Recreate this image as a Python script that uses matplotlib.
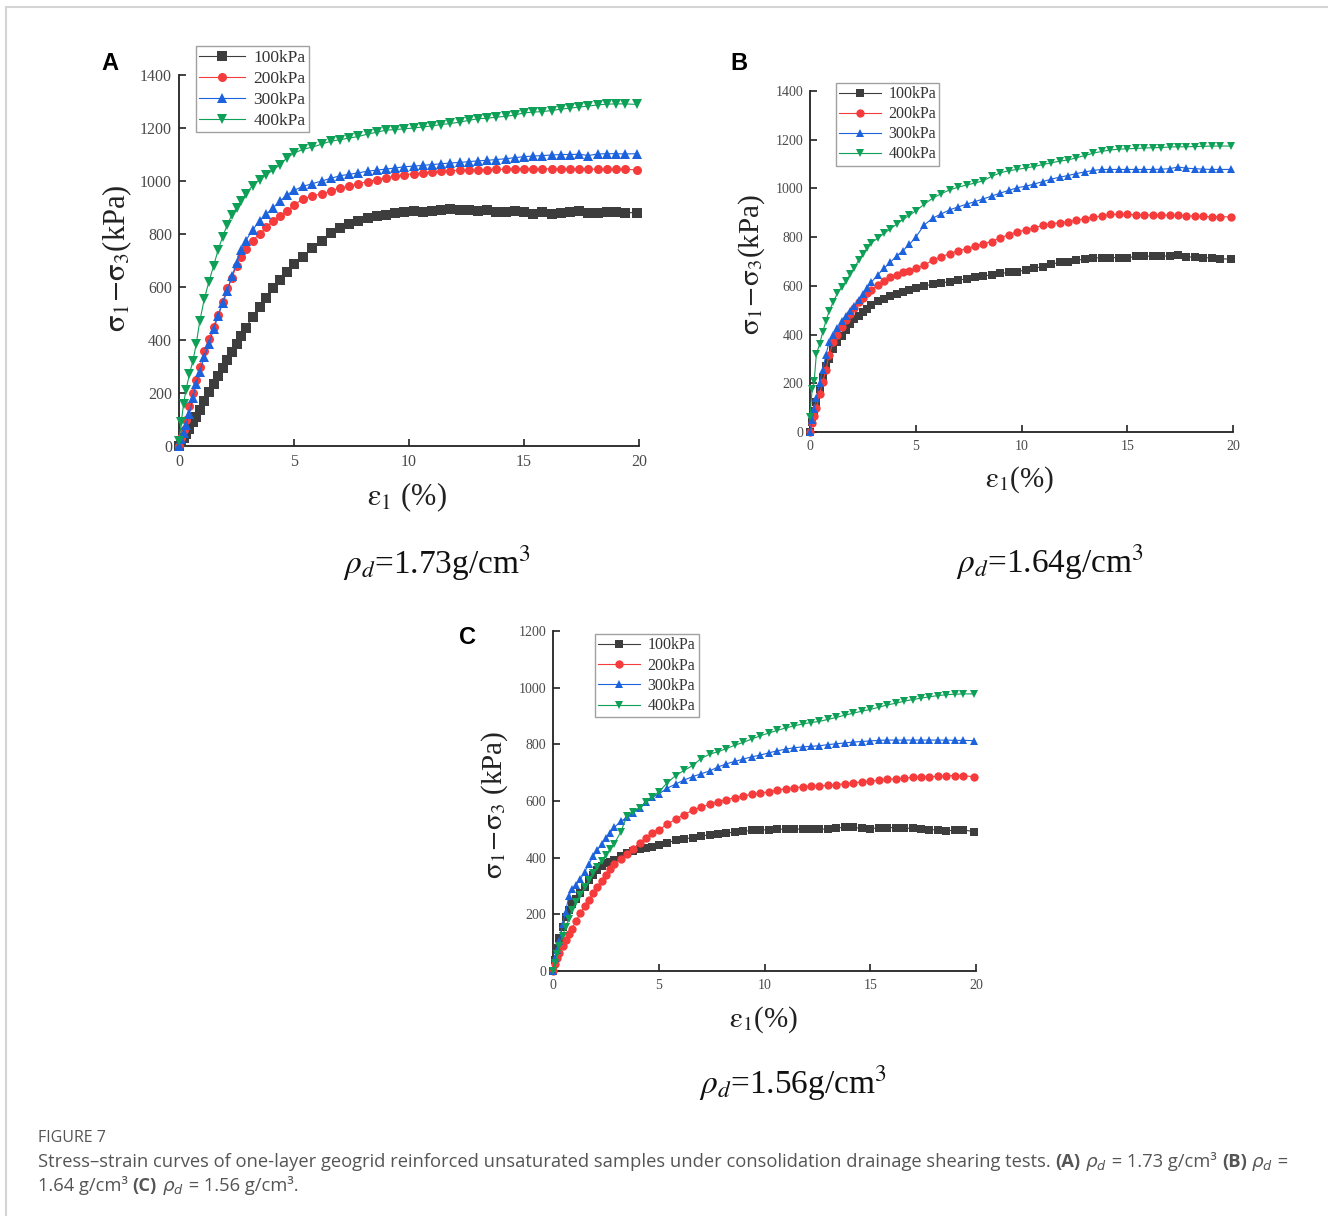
import matplotlib
matplotlib.use("Agg")
import matplotlib.pyplot as plt
from matplotlib.lines import Line2D

plt.rcParams['font.family'] = ['Liberation Serif', 'DejaVu Serif']
plt.rcParams['mathtext.fontset'] = 'stix'

# ---------------- data ----------------
strain = [0, 0.1, 0.2, 0.3, 0.45, 0.6, 0.75, 0.9,
          1.1, 1.3, 1.5, 1.7, 1.9, 2.1, 2.3, 2.5, 2.7, 2.9,
          3.2, 3.5, 3.8, 4.1, 4.4, 4.7, 5.0,
          5.4, 5.8, 6.2, 6.6, 7.0, 7.4, 7.8, 8.2, 8.6, 9.0, 9.4, 9.8,
          10.2, 10.6, 11.0, 11.4, 11.8, 12.2, 12.6, 13.0, 13.4, 13.8,
          14.2, 14.6, 15.0, 15.4, 15.8, 16.2, 16.6, 17.0, 17.4, 17.8,
          18.2, 18.6, 19.0, 19.4, 19.9]

labels = ['100kPa', '200kPa', '300kPa', '400kPa']

# Panel A  (rho_d = 1.73 g/cm3)
A_100 = [0, 15, 30, 45, 65, 90, 110, 135,
         170, 205, 235, 265, 295, 325, 355, 385, 415, 445,
         488, 525, 560, 598, 628, 658, 688,
         715, 748, 775, 803, 822, 838, 850, 860, 868, 870, 880, 882,
         888, 883, 888, 892, 893, 889, 892, 887, 890, 884,
         883, 885, 884, 877, 882, 877, 881, 883, 886, 879,
         878, 883, 884, 881, 880]
A_200 = [0, 30, 60, 100, 150, 200, 250, 300,
         360, 405, 450, 495, 545, 595, 635, 680, 715, 745,
         775, 800, 825, 850, 868, 885, 910,
         932, 944, 952, 962, 974, 980, 990, 998, 1005, 1012, 1018, 1024,
         1027, 1030, 1034, 1036, 1038, 1040, 1040, 1042, 1043, 1044,
         1044, 1046, 1046, 1046, 1046, 1046, 1045, 1045, 1046, 1045,
         1044, 1044, 1044, 1044, 1042]
A_300 = [0, 25, 50, 80, 120, 180, 235, 280,
         335, 385, 440, 490, 540, 585, 640, 690, 740, 775,
         815, 850, 875, 900, 925, 948, 965,
         980, 990, 1000, 1010, 1020, 1025, 1031, 1037, 1041, 1045, 1049, 1054,
         1056, 1059, 1062, 1065, 1068, 1070, 1073, 1076, 1078, 1081,
         1084, 1088, 1092, 1094, 1096, 1098, 1100, 1100, 1101, 1096,
         1102, 1103, 1103, 1102, 1103]
A_400 = [20, 90, 160, 210, 270, 320, 385, 470,
         555, 620, 678, 740, 790, 835, 872, 898, 925, 950,
         983, 1005, 1024, 1042, 1062, 1088, 1105,
         1120, 1128, 1139, 1150, 1156, 1162, 1168, 1177, 1184, 1192, 1194, 1197,
         1200, 1204, 1208, 1213, 1217, 1222, 1229, 1235, 1237, 1241,
         1244, 1249, 1257, 1260, 1262, 1266, 1271, 1275, 1279, 1283,
         1287, 1290, 1291, 1291, 1289]

# Panel B  (rho_d = 1.64 g/cm3)
B_100 = [0, 40, 85, 125, 175, 225, 270, 300,
         340, 370, 395, 420, 445, 462, 478, 492, 507, 522,
         538, 548, 558, 568, 576, 584, 592,
         600, 606, 612, 617, 623, 629, 635, 640, 646, 651, 655, 658,
         666, 673, 678, 688, 697, 700, 705, 710, 714, 716,
         716, 716, 714, 722, 722, 722, 722, 723, 726, 720,
         717, 716, 714, 712, 709]
B_200 = [0, 35, 65, 100, 155, 205, 255, 315,
         370, 400, 430, 460, 485, 510, 532, 552, 570, 585,
         603, 620, 636, 646, 655, 663, 672,
         684, 706, 719, 732, 743, 753, 763, 773, 782, 797, 810, 822,
         829, 838, 848, 855, 859, 863, 870, 876, 883, 886,
         893, 894, 893, 892, 891, 891, 891, 890, 889, 888,
         886, 885, 884, 884, 883]
B_300 = [0, 50, 95, 140, 200, 255, 315, 370,
         400, 428, 455, 475, 495, 518, 540, 565, 590, 615,
         645, 672, 697, 723, 745, 770, 800,
         850, 878, 895, 912, 924, 935, 946, 957, 969, 981, 992, 1003,
         1009, 1018, 1028, 1038, 1046, 1053, 1061, 1068, 1074, 1078,
         1078, 1078, 1078, 1078, 1078, 1078, 1079, 1081, 1088, 1083,
         1081, 1079, 1078, 1078, 1078]
B_400 = [60, 175, 210, 320, 360, 410, 455, 495,
         535, 570, 595, 618, 648, 675, 705, 730, 755, 777,
         795, 815, 834, 853, 873, 889, 908,
         935, 960, 978, 994, 1005, 1014, 1022, 1032, 1050, 1064, 1073, 1078,
         1084, 1090, 1098, 1105, 1112, 1117, 1126, 1135, 1145, 1152,
         1158, 1161, 1163, 1164, 1166, 1167, 1168, 1170, 1171, 1171,
         1172, 1173, 1174, 1174, 1174]

# Panel C  (rho_d = 1.56 g/cm3)
C_100 = [0, 40, 80, 115, 155, 190, 215, 235,
         255, 275, 298, 320, 340, 358, 372, 380, 386, 392,
         405, 416, 424, 430, 433, 438, 443,
         453, 461, 466, 471, 476, 481, 484, 487, 490, 493, 496, 498,
         498, 500, 501, 501, 501, 501, 500, 502, 505, 507,
         507, 503, 502, 506, 506, 506, 505, 503, 500, 499,
         498, 495, 497, 498, 492]
C_200 = [0, 25, 45, 65, 90, 110, 130, 150,
         178, 205, 228, 250, 275, 297, 318, 340, 360, 377,
         396, 414, 430, 452, 471, 486, 498,
         518, 536, 552, 567, 578, 588, 598, 605, 612, 618, 623, 629,
         632, 639, 643, 647, 650, 653, 654, 655, 658, 661,
         664, 667, 670, 673, 676, 678, 681, 683, 685, 686,
         687, 689, 690, 689, 686]
C_300 = [0, 45, 75, 105, 165, 210, 265, 290,
         305, 325, 350, 378, 405, 427, 448, 468, 488, 507,
         528, 542, 558, 576, 598, 613, 625,
         645, 660, 674, 686, 696, 706, 720, 731, 740, 748, 756, 762,
         770, 777, 783, 788, 791, 793, 795, 799, 802, 805,
         808, 810, 812, 814, 815, 815, 815, 815, 815, 815,
         815, 815, 814, 814, 813]
C_400 = [0, 30, 60, 90, 125, 155, 185, 215,
         245, 270, 295, 320, 345, 368, 390, 410, 430, 450,
         490, 548, 562, 577, 595, 615, 632,
         664, 690, 708, 725, 750, 765, 774, 785, 797, 807, 819, 830,
         840, 849, 858, 865, 872, 877, 881, 888, 895, 903,
         910, 917, 923, 931, 939, 945, 952, 958, 963, 968,
         972, 975, 977, 978, 978]

x_ticks = [0, 5, 10, 15, 20]
yticks_AB = [0, 200, 400, 600, 800, 1000, 1200, 1400]
yticks_C = [0, 200, 400, 600, 800, 1000, 1200]

# ---------------- style ----------------
colors = ['#3d3d3d', '#f53b3b', '#1c62dc', '#0fa058']
markers = ['s', 'o', '^', 'v']

W, H = 1328, 1216
fig = plt.figure(figsize=(W / 100, H / 100), dpi=100)
fig.patch.set_facecolor('white')


def px_axes(x0, x1, y0, y1):
    return fig.add_axes([x0 / W, 1 - y0 / H, (x1 - x0) / W, (y0 - y1) / H])


def panel(ax, series, yticks, ymax, ylabel, xlabel, leg_anchor, ms, tick_fs,
          ylab_pos, xlab_pos, lab_fs, leg_fs, lspace):
    for vals, c, m, lab in zip(series, colors, markers, labels):
        ax.plot(strain, vals, color=c, marker=m, ms=ms, lw=0.8,
                markeredgewidth=0, label=lab, clip_on=False, zorder=3)
    ax.set_xlim(0, 20)
    ax.set_ylim(0, ymax)
    ax.set_xticks(x_ticks)
    ax.set_yticks(yticks)
    for s in ['top', 'right']:
        ax.spines[s].set_visible(False)
    for s in ['left', 'bottom']:
        ax.spines[s].set_linewidth(1.3)
        ax.spines[s].set_color('#222222')
    ax.tick_params(direction='in', length=5, width=1.2, colors='#222222',
                   labelcolor='#4a4a4a', labelsize=tick_fs)
    ax.tick_params(axis='x', pad=6)
    ax.tick_params(axis='y', pad=5)
    ax.text(ylab_pos[0], ylab_pos[1], ylabel, transform=ax.transAxes,
            rotation=90, ha='center', va='center', fontsize=lab_fs,
            color='#222222')
    ax.text(xlab_pos[0], xlab_pos[1], xlabel, transform=ax.transAxes,
            ha='center', va='center', fontsize=lab_fs, color='#222222')
    leg = ax.legend(loc='upper left', bbox_to_anchor=leg_anchor,
                    fontsize=leg_fs, frameon=True, fancybox=False,
                    edgecolor='#8a8a8a', handlelength=2.6, handletextpad=0.5,
                    borderpad=0.2, labelspacing=lspace, borderaxespad=0)
    leg.get_frame().set_linewidth(1.0)
    for t in leg.get_texts():
        t.set_color('#333333')


sig = r'$\mathrm{\sigma}_1\!-\!\mathrm{\sigma}_3$'
eps = r'$\mathrm{\varepsilon}_1$'

axA = px_axes(179, 639, 446, 75)
panel(axA, [A_100, A_200, A_300, A_400], yticks_AB, 1400,
      sig + '(kPa)', eps + ' (%)',
      (0.037, 1.078), 6.5, 11.5, (-0.135, 0.505), (0.496, -0.137), 22, 12.5, 0.28)

axB = px_axes(810, 1233, 432, 91)
panel(axB, [B_100, B_200, B_300, B_400], yticks_AB, 1400,
      sig + '(kPa)', eps + '(%)',
      (0.061, 1.023), 6, 10, (-0.137, 0.49), (0.496, -0.141), 21, 11.5, 0.25)

axC = px_axes(553, 976, 971, 631)
panel(axC, [C_100, C_200, C_300, C_400], yticks_C, 1200,
      sig + ' (kPa)', eps + '(%)',
      (0.099, 0.991), 6, 10, (-0.139, 0.488), (0.499, -0.144), 21, 11.5, 0.27)

# panel letters
for letter, (x, y) in zip(['A', 'B', 'C'], [(110, 63), (739, 63), (467, 637)]):
    fig.text(x / W, 1 - y / H, letter, ha='center', va='center', fontsize=17,
             fontweight='bold', family=['Liberation Sans', 'DejaVu Sans'])

# density labels
dens = [r'$\rho_d$=1.73g/cm$^3$', r'$\rho_d$=1.64g/cm$^3$', r'$\rho_d$=1.56g/cm$^3$']
for txt, (x, y) in zip(dens, [(437, 563), (1050, 562), (793, 1083)]):
    fig.text(x / W, 1 - y / H, txt, ha='center', va='center', fontsize=24,
             color='#111111')

# frame lines
fig.add_artist(Line2D([6 / W, 1], [1 - 7 / H, 1 - 7 / H], transform=fig.transFigure,
                      color='#d4d4d4', lw=1.5))
fig.add_artist(Line2D([6 / W, 6 / W], [0, 1 - 7 / H], transform=fig.transFigure,
                      color='#d4d4d4', lw=1.5))

# caption
cap_color = '#555555'
sans = ['Open Sans', 'DejaVu Sans']
fig.text(38 / W, 1 - 1138 / H, 'FIGURE 7', ha='left', va='center', fontsize=11.5,
         color=cap_color, family=sans)

renderer = fig.canvas.get_renderer()


def runs(x_px, y_px, pieces, fs):
    x = x_px / W
    for txt, kw in pieces:
        t = fig.text(x, 1 - y_px / H, txt, ha='left', va='baseline',
                     fontsize=fs, color=cap_color, family=sans,
                     math_fontfamily='dejavusans', **kw)
        bb = t.get_window_extent(renderer=renderer)
        x += bb.width / W


rho = r'$\rho_d$'
runs(38, 1167, [
    ('Stress\u2013strain curves of one-layer geogrid reinforced unsaturated samples '
     'under consolidation drainage shearing tests.\u00a0', {}),
    ('(A)', {'fontweight': 'bold'}), ('\u00a0', {}), (rho, {}),
    ('\u00a0= 1.73 g/cm\u00b3\u00a0', {}), ('(B)', {'fontweight': 'bold'}),
    ('\u00a0', {}), (rho, {}), ('\u00a0=', {}),
], 13.2)
runs(38, 1191, [
    ('1.64 g/cm\u00b3\u00a0', {}), ('(C)', {'fontweight': 'bold'}), ('\u00a0', {}),
    (rho, {}), ('\u00a0= 1.56 g/cm\u00b3.', {}),
], 13.2)

fig.savefig('out.png', dpi=100, facecolor='white')
